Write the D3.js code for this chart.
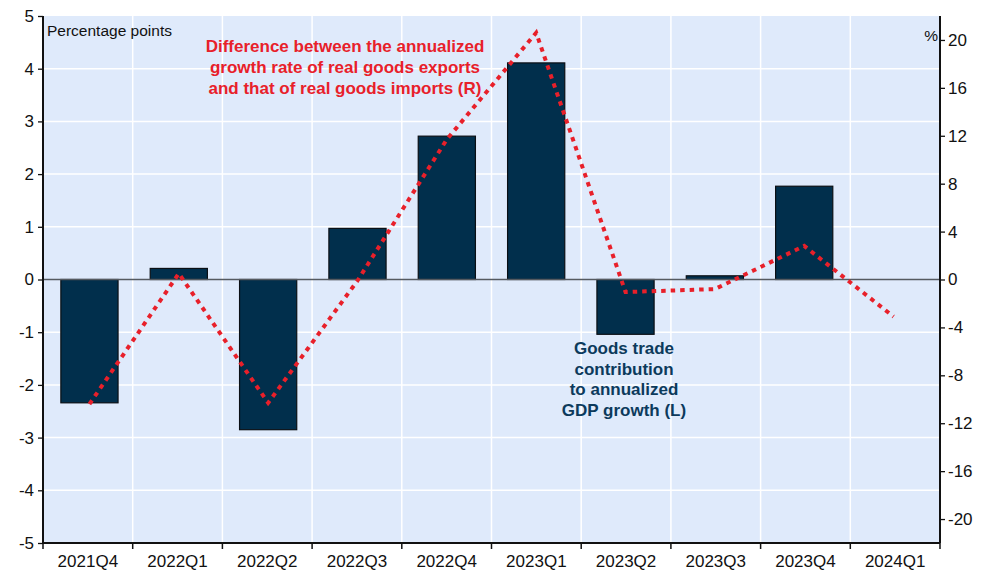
<!DOCTYPE html>
<html>
<head>
<meta charset="utf-8">
<script src="https://cdn.jsdelivr.net/npm/d3@7"></script>
<style>
  html, body { margin: 0; padding: 0; background: #ffffff; }
  svg { display: block; font-family: "Liberation Sans", Arial, sans-serif; }
</style>
</head>
<body>
<svg id="chart" width="986" height="571"></svg>
<script>
// ---- Data ----
const categories = ["2021Q4","2022Q1","2022Q2","2022Q3","2022Q4","2023Q1","2023Q2","2023Q3","2023Q4","2024Q1"];
const tradeContribution = [-2.34, 0.21, -2.85, 0.97, 2.72, 4.11, -1.04, 0.07, 1.77, null]; // left axis, pp
const exportImportDiff = [-10.4, 0.5, -10.3, -0.1, 11.7, 20.6, -1.05, -0.8, 2.8, -3.1];   // right axis, %
const leftTicks = [-5, -4, -3, -2, -1, 0, 1, 2, 3, 4, 5];
const rightTicks = [-20, -16, -12, -8, -4, 0, 4, 8, 12, 16, 20];
const redNote = ["Difference between the annualized", "growth rate of real goods exports", "and that of real goods imports (R)"];
const navyNote = ["Goods trade", "contribution", "to annualized", "GDP growth (L)"];

// ---- Layout ----
const svg = d3.select("#chart");
const L = 43, R = 940, T = 16, B = 543;
const FONT = "Liberation Sans, Arial, sans-serif";

const x = d3.scaleBand().domain(categories).range([L, R]).paddingInner(0.36).paddingOuter(0.2);
const xb = d3.scaleBand().domain(categories).range([L, R]).padding(0);
const yL = d3.scaleLinear().domain([-5, 5]).range([B, T]);
const yR = d3.scaleLinear().domain([-22, 22]).range([B, T]);

// background
svg.append("rect").attr("x", L).attr("y", T).attr("width", R - L).attr("height", B - T).attr("fill", "#dfeafb");

// gridlines
svg.append("g").selectAll("line").data(leftTicks.filter(d => d !== 0 && d !== -5 && d !== 5)).join("line")
  .attr("x1", L).attr("x2", R).attr("y1", d => yL(d)).attr("y2", d => yL(d))
  .attr("stroke", "#ffffff").attr("stroke-width", 1.5);
svg.append("g").selectAll("line").data(categories.slice(1)).join("line")
  .attr("x1", d => xb(d)).attr("x2", d => xb(d)).attr("y1", T).attr("y2", B)
  .attr("stroke", "#ffffff").attr("stroke-width", 1.5);

// bars
svg.append("g").selectAll("rect").data(categories.map((c, i) => ({c, v: tradeContribution[i]})).filter(d => d.v !== null)).join("rect")
  .attr("x", d => x(d.c)).attr("width", x.bandwidth())
  .attr("y", d => yL(Math.max(0, d.v))).attr("height", d => Math.abs(yL(d.v) - yL(0)))
  .attr("fill", "#012f4c").attr("stroke", "#0a0f14").attr("stroke-width", 1.2);

// zero line
svg.append("line").attr("x1", L).attr("x2", R).attr("y1", yL(0)).attr("y2", yL(0))
  .attr("stroke", "#555a60").attr("stroke-width", 1.5);

// red dotted line
const line = d3.line().x((d, i) => x(categories[i]) + x.bandwidth() / 2).y(d => yR(d));
svg.append("path").datum(exportImportDiff).attr("d", line)
  .attr("fill", "none").attr("stroke", "#e8202a").attr("stroke-width", 4)
  .attr("stroke-dasharray", "4.5,5");

// axes
const fmt = d => String(d);
const axL = svg.append("g").attr("transform", `translate(${L},0)`)
  .call(d3.axisLeft(yL).tickValues(leftTicks).tickSize(5).tickPadding(4).tickFormat(fmt));
const axR = svg.append("g").attr("transform", `translate(${R},0)`)
  .call(d3.axisRight(yR).tickValues(rightTicks).tickSize(5).tickPadding(3).tickFormat(fmt));
const axB = svg.append("g").attr("transform", `translate(0,${B})`)
  .call(d3.axisBottom(xb).tickSize(0).tickPadding(12));
// bottom ticks at band boundaries
svg.append("g").selectAll("line").data(categories.map(c => xb(c)).concat([R])).join("line")
  .attr("x1", d => d).attr("x2", d => d).attr("y1", B).attr("y2", B + 6)
  .attr("stroke", "#111").attr("stroke-width", 1.5);

[axL, axR, axB].forEach(a => {
  a.selectAll(".domain").attr("stroke", "#111").attr("stroke-width", 2);
  a.selectAll(".tick line").attr("stroke", "#111").attr("stroke-width", 1.3);
  a.selectAll("text").attr("font-size", 17).attr("fill", "#111").attr("font-family", FONT);
});
axL.select(".domain").attr("d", `M0,${T}V${B}`);
axR.select(".domain").attr("d", `M0,${T}V${B}`);
axB.select(".domain").attr("d", `M${L},0H${R}`);

// unit labels
svg.append("text").attr("x", 47).attr("y", 36).attr("font-size", 15.5).attr("fill", "#111").text("Percentage points");
svg.append("text").attr("x", 938).attr("y", 41).attr("text-anchor", "end").attr("font-size", 15.5).attr("fill", "#111").text("%");

// annotations
svg.append("g").selectAll("text").data(redNote).join("text")
  .attr("x", 345).attr("y", (d, i) => 52 + i * 21).attr("text-anchor", "middle")
  .attr("font-size", 17).attr("font-weight", "bold").attr("fill", "#e8202a").text(d => d);
svg.append("g").selectAll("text").data(navyNote).join("text")
  .attr("x", 624).attr("y", (d, i) => 354 + i * 20.7).attr("text-anchor", "middle")
  .attr("font-size", 17).attr("font-weight", "bold").attr("fill", "#0c3a5c").text(d => d);
</script>
</body>
</html>
